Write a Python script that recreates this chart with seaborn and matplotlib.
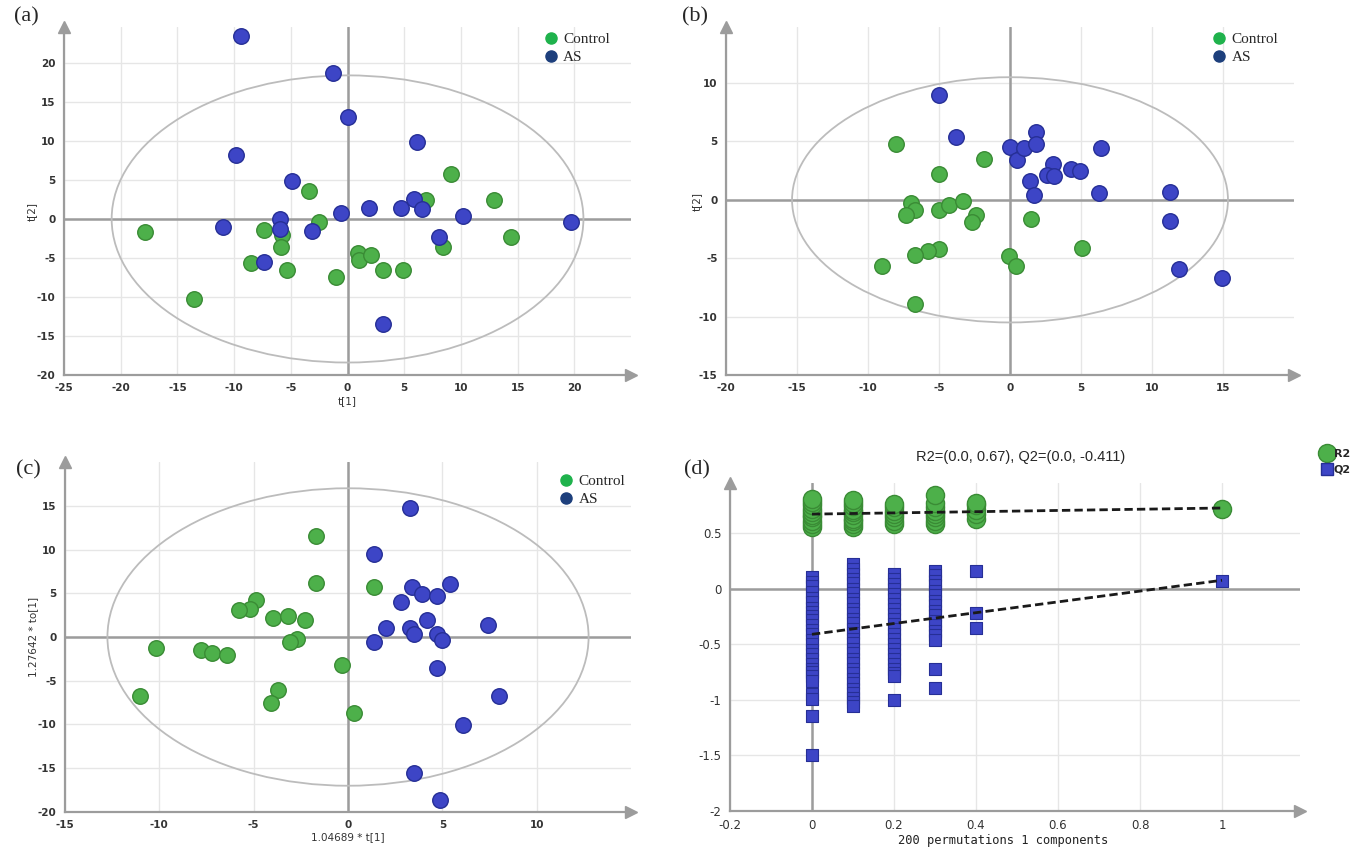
import numpy as np
import pandas as pd
import matplotlib
matplotlib.use("Agg")
import matplotlib.pyplot as plt
import seaborn as sns
from matplotlib.patches import Ellipse
from matplotlib.lines import Line2D
from matplotlib.ticker import AutoMinorLocator, FuncFormatter

# ---- panel (a) PCA scores
a_ctrl_x = [-17.9, -13.5, -8.5, -7.4, -5.8, -5.9, -5.3, -3.4, -2.5, -1.0, 0.9, 1.0, 2.1, 3.1, 4.9, 9.1, 6.9, 8.4, 12.9, 14.4]
a_ctrl_y = [-1.7, -10.3, -5.7, -1.4, -2.1, -3.6, -6.6, 3.6, -0.4, -7.4, -4.4, -5.3, -4.6, -6.6, -6.6, 5.7, 2.4, -3.6, 2.4, -2.3]
a_as_x = [-9.4, -1.3, 0.0, 6.1, -9.8, -4.9, -11.0, -6.0, -6.0, -3.1, -7.4, -0.6, 1.9, 4.7, 5.9, 6.6, 10.2, 8.1, 19.7, 3.1]
a_as_y = [23.4, 18.7, 13.1, 9.9, 8.2, 4.8, -1.0, 0.0, -1.3, -1.5, -5.5, 0.8, 1.4, 1.4, 2.5, 1.3, 0.4, -2.3, -0.4, -13.4]
a_ellipse = (41.6, 36.8)

# ---- panel (b) PLS-DA scores
b_ctrl_x = [-8.0, -1.8, -5.0, -7.0, -6.7, -7.3, -5.0, -4.3, -3.3, -2.4, -2.7, 1.5, -5.0, -5.8, -6.7, -9.0, -6.7, -0.1, 0.4, 5.1]
b_ctrl_y = [4.8, 3.5, 2.2, -0.3, -0.9, -1.3, -0.9, -0.4, -0.1, -1.3, -1.9, -1.6, -4.2, -4.4, -4.7, -5.7, -8.9, -4.8, -5.7, -4.1]
b_as_x = [-5.0, -3.8, 0.0, 0.5, 1.0, 1.8, 1.8, 1.4, 1.7, 3.0, 2.6, 3.1, 4.3, 4.9, 6.4, 6.3, 11.3, 11.3, 11.9, 14.9]
b_as_y = [9.0, 5.4, 4.5, 3.4, 4.4, 5.8, 4.8, 1.6, 0.4, 3.1, 2.1, 2.0, 2.6, 2.5, 4.4, 0.6, 0.7, -1.8, -5.9, -6.7]
b_ellipse = (30.7, 21.0)

# ---- panel (c) OPLS-DA scores
c_ctrl_x = [-1.7, -1.7, 1.4, -4.9, -5.2, -5.8, -4.0, -3.2, -2.3, -2.7, -3.1, -10.2, -7.8, -7.2, -6.4, -0.3, -3.7, -4.1, 0.3, -11.0]
c_ctrl_y = [11.6, 6.2, 5.7, 4.2, 3.2, 3.1, 2.2, 2.4, 2.0, -0.2, -0.6, -1.3, -1.5, -1.8, -2.1, -3.2, -6.1, -7.5, -8.7, -6.8]
c_as_x = [3.3, 1.4, 3.4, 3.9, 4.7, 5.4, 2.8, 4.2, 3.3, 3.5, 2.0, 4.7, 5.0, 1.4, 7.4, 4.7, 8.0, 6.1, 3.5, 4.9]
c_as_y = [14.8, 9.5, 5.7, 4.9, 4.7, 6.1, 4.0, 1.9, 1.0, 0.4, 1.0, 0.3, -0.3, -0.6, 1.4, -3.5, -6.8, -10.1, -15.5, -18.6]
c_ellipse = (25.5, 34.0)

# ---- panel (d) permutation test
perm_pos = [0.0, 0.1, 0.2, 0.3, 0.4, 1.0]
r2_at_0 = [0.55, 0.58, 0.61, 0.64, 0.66, 0.69, 0.72, 0.75, 0.78, 0.81]
r2_at_1 = [0.55, 0.58, 0.61, 0.63, 0.66, 0.69, 0.71, 0.74, 0.77, 0.80]
r2_at_2 = [0.58, 0.61, 0.64, 0.67, 0.70, 0.73, 0.76]
r2_at_3 = [0.58, 0.61, 0.64, 0.67, 0.70, 0.73, 0.77, 0.84]
r2_at_4 = [0.63, 0.67, 0.71, 0.75, 0.77]
r2_model = [0.72]
q2_at_0 = [0.10, 0.06, 0.02, -0.03, -0.08, -0.12, -0.17, -0.21, -0.25, -0.28, -0.33, -0.37, -0.41, -0.46,
           -0.50, -0.55, -0.59, -0.63, -0.68, -0.72, -0.75, -0.79, -0.83, -0.95, -0.99, -1.15, -1.50]
q2_at_1 = [0.22, 0.18, 0.13, 0.09, 0.05, 0.00, -0.04, -0.09, -0.13, -0.18, -0.22, -0.27, -0.31, -0.36, -0.40,
           -0.45, -0.49, -0.54, -0.58, -0.63, -0.67, -0.72, -0.76, -0.81, -0.85, -0.90, -0.94, -0.98, -1.02, -1.06]
q2_at_2 = [0.13, 0.09, 0.04, 0.00, -0.05, -0.09, -0.14, -0.18, -0.23, -0.27, -0.32, -0.36, -0.41, -0.45,
           -0.50, -0.54, -0.59, -0.63, -0.68, -0.72, -0.76, -0.79, -1.00]
q2_at_3 = [0.16, 0.12, 0.07, 0.03, -0.02, -0.06, -0.11, -0.15, -0.20, -0.24, -0.29, -0.33, -0.38, -0.42, -0.46, -0.72, -0.89]
q2_at_4 = [0.16, -0.22, -0.35]
q2_model = [0.07]
r2_fit_x, r2_fit_y = [0.0, 1.0], [0.67, 0.725]
q2_fit_x, q2_fit_y = [0.0, 1.0], [-0.411, 0.075]

GREEN, GREEN_EDGE = "#4db04a", "#3a8b35"
BLUE, BLUE_EDGE = "#3d45c6", "#262f96"
AXIS_GRAY = "#9c9c9c"
GRID = "#e6e6e6"

sns.set_style("white")
plt.rcParams["axes.unicode_minus"] = False
plt.rcParams["font.family"] = ["DejaVu Sans"]

fig = plt.figure(figsize=(13.51, 8.49), dpi=100)


def frame(ax, xlim, ylim, xticks, yticks, weight="bold", size=7.5):
    ax.set_xlim(xlim)
    ax.set_ylim(ylim)
    ax.set_xticks(xticks)
    ax.set_yticks(yticks)
    ax.xaxis.set_minor_locator(AutoMinorLocator(2))
    ax.yaxis.set_minor_locator(AutoMinorLocator(2))
    fmt = FuncFormatter(lambda v, p: f"{v:g}")
    ax.xaxis.set_major_formatter(fmt)
    ax.yaxis.set_major_formatter(fmt)
    ax.grid(True, which="major", color=GRID, lw=1)
    ax.set_axisbelow(True)
    for s in ["top", "right"]:
        ax.spines[s].set_visible(False)
    for s in ["left", "bottom"]:
        ax.spines[s].set_color(AXIS_GRAY)
        ax.spines[s].set_linewidth(1.6)
    ax.axhline(0, color=AXIS_GRAY, lw=1.8, zorder=1)
    ax.axvline(0, color=AXIS_GRAY, lw=1.8, zorder=1)
    ax.tick_params(which="major", direction="out", length=4, width=1, color=AXIS_GRAY,
                   labelsize=size, labelcolor="#333333", pad=2)
    ax.tick_params(which="minor", direction="out", length=2.5, width=0.8, color=AXIS_GRAY)
    for lab in ax.get_xticklabels() + ax.get_yticklabels():
        lab.set_fontweight(weight)
    ax.plot(1, 0, ">", transform=ax.transAxes, clip_on=False, color=AXIS_GRAY, ms=8, zorder=6)
    ax.plot(0, 1, "^", transform=ax.transAxes, clip_on=False, color=AXIS_GRAY, ms=8, zorder=6)


def scores(ax, cx, cy, bx, by, ell):
    ax.add_patch(Ellipse((0, 0), ell[0], ell[1], fill=False, ec="#bcbcbc", lw=1.3, zorder=2))
    sns.scatterplot(x=cx, y=cy, ax=ax, color=GREEN, edgecolor=GREEN_EDGE, s=125, linewidth=1, zorder=3)
    sns.scatterplot(x=bx, y=by, ax=ax, color=BLUE, edgecolor=BLUE_EDGE, s=125, linewidth=1, zorder=4)


def group_legend(ax, anchor):
    handles = [Line2D([], [], ls="", marker="o", ms=8, color="#1fb24c"),
               Line2D([], [], ls="", marker="o", ms=8, color="#1d3f7c")]
    ax.legend(handles, ["Control", "AS"], loc="upper left", bbox_to_anchor=anchor, frameon=False,
              prop={"family": "Liberation Serif", "size": 11}, handletextpad=0.3,
              labelspacing=0.3, handlelength=1.0, borderaxespad=0, borderpad=0)


# (a)
ax_a = fig.add_axes([0.0474, 0.5583, 0.4197, 0.4099])
scores(ax_a, a_ctrl_x, a_ctrl_y, a_as_x, a_as_y, a_ellipse)
frame(ax_a, (-25, 25), (-20, 24.6), [-25, -20, -15, -10, -5, 0, 5, 10, 15, 20],
      [-20, -15, -10, -5, 0, 5, 10, 15, 20])
ax_a.set_xlabel("t[1]", fontsize=7.5, color="#333333", labelpad=2)
ax_a.set_ylabel("t[2]", fontsize=7.5, color="#333333")
ax_a.yaxis.set_label_coords(-0.048, 0.47)
group_legend(ax_a, (0.845, 0.985))

# (b)
ax_b = fig.add_axes([0.5374, 0.5583, 0.4204, 0.4099])
scores(ax_b, b_ctrl_x, b_ctrl_y, b_as_x, b_as_y, b_ellipse)
frame(ax_b, (-20, 20), (-15, 14.8), [-20, -15, -10, -5, 0, 5, 10, 15], [-15, -10, -5, 0, 5, 10])
ax_b.set_ylabel("t[2]", fontsize=7.5, color="#333333")
ax_b.yaxis.set_label_coords(-0.042, 0.5)
group_legend(ax_b, (0.855, 0.985))

# (c)
ax_c = fig.add_axes([0.0481, 0.0436, 0.4190, 0.4122])
scores(ax_c, c_ctrl_x, c_ctrl_y, c_as_x, c_as_y, c_ellipse)
frame(ax_c, (-15, 15), (-20, 20), [-15, -10, -5, 0, 5, 10], [-20, -15, -10, -5, 0, 5, 10, 15])
ax_c.set_xlabel("1.04689 * t[1]", fontsize=7.5, color="#333333", labelpad=1)
ax_c.set_ylabel("1.27642 * to[1]", fontsize=7.5, color="#333333")
ax_c.yaxis.set_label_coords(-0.048, 0.5)
group_legend(ax_c, (0.872, 0.965))

# (d)
ax_d = fig.add_axes([0.5403, 0.0448, 0.4219, 0.3863])
r2_df = pd.DataFrame({"x": [perm_pos[i] for i, col in enumerate([r2_at_0, r2_at_1, r2_at_2, r2_at_3, r2_at_4, r2_model])
                            for _ in col],
                      "y": r2_at_0 + r2_at_1 + r2_at_2 + r2_at_3 + r2_at_4 + r2_model})
q2_df = pd.DataFrame({"x": [perm_pos[i] for i, col in enumerate([q2_at_0, q2_at_1, q2_at_2, q2_at_3, q2_at_4, q2_model])
                            for _ in col],
                      "y": q2_at_0 + q2_at_1 + q2_at_2 + q2_at_3 + q2_at_4 + q2_model})
sns.scatterplot(data=r2_df, x="x", y="y", ax=ax_d, color=GREEN, edgecolor=GREEN_EDGE, s=170, linewidth=1, zorder=3)
sns.scatterplot(data=q2_df, x="x", y="y", ax=ax_d, marker="s", color=BLUE, edgecolor=BLUE_EDGE, s=80,
                linewidth=0.8, zorder=3)
sns.lineplot(x=r2_fit_x, y=r2_fit_y, ax=ax_d, color="#1a1a1a", lw=2, linestyle=(0, (3, 1.5)), zorder=5)
sns.lineplot(x=q2_fit_x, y=q2_fit_y, ax=ax_d, color="#1a1a1a", lw=2, linestyle=(0, (3, 1.5)), zorder=5)
frame(ax_d, (-0.2, 1.19), (-2, 0.95), [-0.2, 0, 0.2, 0.4, 0.6, 0.8, 1.0],
      [-2, -1.5, -1, -0.5, 0, 0.5], weight="normal", size=8.5)
ax_d.set_xlabel("200 permutations 1 components", family="DejaVu Sans Mono", fontsize=8.7, color="#222222")
ax_d.xaxis.set_label_coords(0.48, -0.07)
ax_d.set_ylabel("")
ax_d.set_title("R2=(0.0, 0.67), Q2=(0.0, -0.411)", family=["Liberation Sans", "DejaVu Sans"],
               fontsize=10.5, pad=16, x=0.51)
d_handles = [Line2D([], [], ls="", marker="o", ms=13, color=GREEN, mec=GREEN_EDGE),
             Line2D([], [], ls="", marker="s", ms=8, color=BLUE, mec=BLUE_EDGE)]
ax_d.legend(d_handles, ["R2", "Q2"], loc="upper left", bbox_to_anchor=(1.035, 1.105), frameon=False,
            prop={"size": 8, "weight": "bold"}, handletextpad=0.05, labelspacing=0.55, handlelength=1.2,
            borderaxespad=0, borderpad=0)

# panel letters
for lab, x, y in [("(a)", 26, 17), ("(b)", 695, 17), ("(c)", 28, 470), ("(d)", 697, 470)]:
    fig.text(x / 1351, 1 - y / 849, lab, family="Liberation Serif", fontsize=16, ha="center", va="center")

fig.savefig("out.png", dpi=100)
